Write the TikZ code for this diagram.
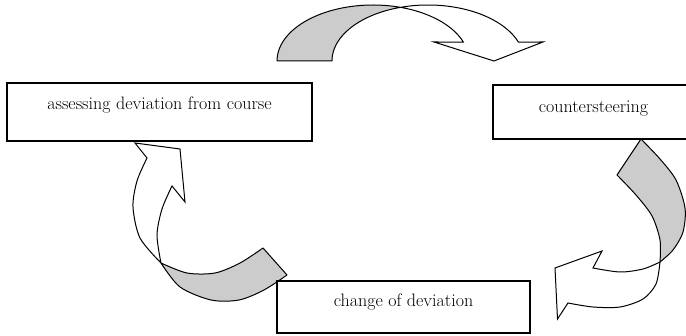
\documentclass[tikz,border=0pt]{standalone}
\usepackage{xcolor}
\usepackage{tikz}
\definecolor{shade}{gray}{0.8}

\begin{document}
\begin{tikzpicture}[x=1pt,y=-1pt,
  stage/.style={draw,fill=white,line width=1.3pt,font=\fontsize{18}{22}\selectfont,text height=12pt,inner sep=0pt},
  backface/.style={draw,fill=shade,line width=1pt,line join=round},
  frontface/.style={draw,fill=white,line width=1pt}]
\clip (0,0) rectangle (686,336);
% top arrow
\draw[backface] plot[domain=180:73.35,samples=40] ({373+96*cos(\x)},{61-56*sin(\x)})
  -- plot[domain=106.65:180,samples=40] ({428+96*cos(\x)},{61-56*sin(\x)}) -- cycle;
\draw[frontface] plot[domain=73.35:19.8,samples=40] ({373+96*cos(\x)},{61-56*sin(\x)})
  -- (434,42) -- (494,61) -- (543,42)
  -- plot[domain=19.8:106.65,samples=40] ({428+96*cos(\x)},{61-56*sin(\x)}) -- cycle;
% right arrow
\draw[backface] plot[smooth] coordinates {(641,139) (660,159) (676,180) (685,208) (683,232) (673,250) (660,262)}
  -- plot[smooth] coordinates {(660,262) (660,240) (652,216) (636,195) (617,175)} -- cycle;
\draw[frontface] plot[smooth] coordinates {(660,262) (643,269) (620,272) (593,268)}
  -- (602,251) -- (555,268) -- (557.5,319)
  -- plot[smooth] coordinates {(568,303) (593,307) (620,307) (643,299) (656,284) (660,262)} -- cycle;
% left arrow
\draw[backface] plot[smooth] coordinates {(161,263) (187,273) (215,273) (240,263) (263,248)}
  -- (287,275) -- plot[smooth] coordinates {(287,275) (264,290) (239,300) (211,300) (180,287) (161,263)} -- cycle;
\draw[frontface] (180,149) -- (135,143)
  -- plot[smooth] coordinates {(147,158) (137,181) (133,207) (140,238) (161,263)}
  -- plot[smooth] coordinates {(161,263) (157,235) (162,209) (172,186)} -- (185,202) -- cycle;
% boxes
\node[stage,minimum width=305pt,minimum height=58pt,text depth=16pt] (assess) at (159.5,112) {assessing deviation from course};
\node[stage,minimum width=201pt,minimum height=54pt,text depth=10pt] (counter) at (593.5,112) {countersteering};
\node[stage,minimum width=253pt,minimum height=52pt,text depth=12pt] (change) at (403.5,307) {change of deviation};
\end{tikzpicture}
\end{document}
